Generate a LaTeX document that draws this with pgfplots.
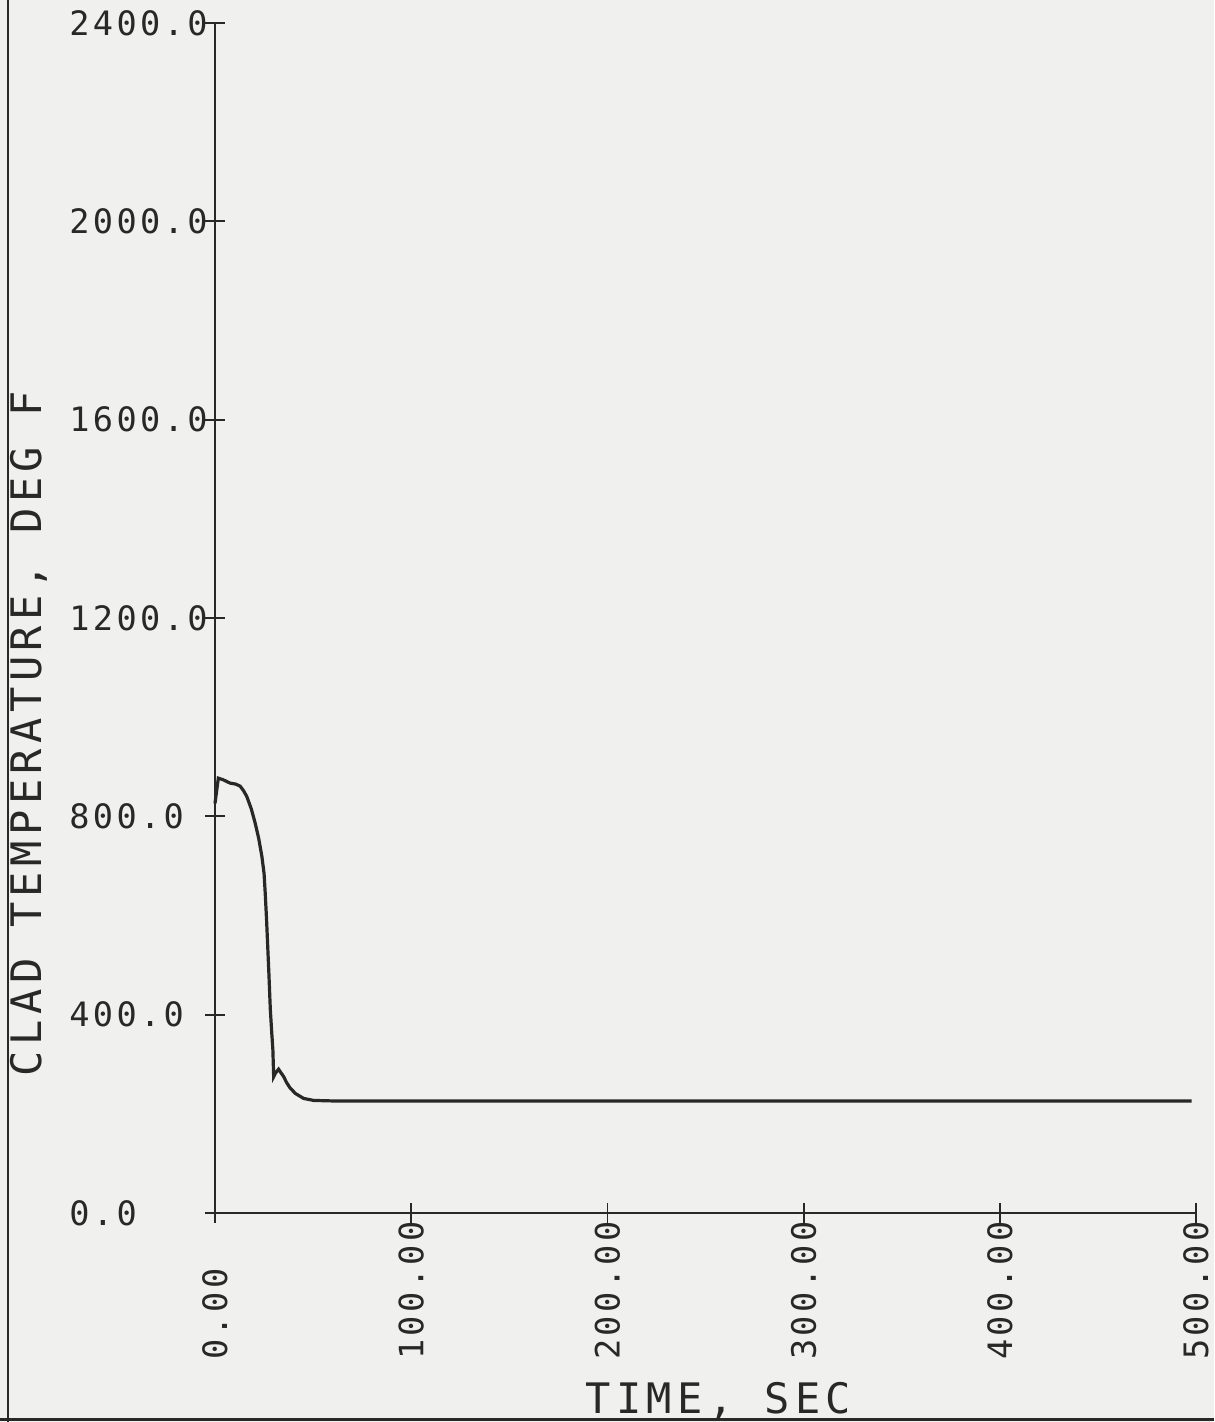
\documentclass[border=0pt]{standalone}
\usepackage{fontspec}
\usepackage{pgfplots}
\pgfplotsset{compat=1.18}
\newfontfamily\pf{DejaVu Sans Mono}[LetterSpace=10]
\newfontfamily\lf{DejaVu Sans Mono}[LetterSpace=13]
\definecolor{ink}{RGB}{40,40,40}
\definecolor{paper}{RGB}{240,240,238}
\begin{document}
\begin{tikzpicture}
\fill[paper] (0,0) rectangle (607pt,711pt);
\useasboundingbox (0,0) rectangle (607pt,711pt);
\draw[ink, line width=1.2pt] (4pt,0) -- (4pt,711pt);
\draw[ink, line width=1.5pt] (0,1.2pt) -- (607pt,1.2pt);
\begin{axis}[
  at={(107.5pt,104.5pt)}, anchor=south west,
  scale only axis, width=490.5pt, height=595pt,
  xmin=0, xmax=500, ymin=0, ymax=2400,
  axis lines=left, axis line style={-, ink, line width=1.1pt},
  xtick={0,100,...,500}, ytick={0,400,...,2400},
  xticklabels={0.00,100.00,200.00,300.00,400.00,500.00},
  yticklabels={0.0,400.0,800.0,1200.0,1600.0,2000.0,2400.0},
  tick align=center, major tick length=10pt,
  tick style={ink, line width=0.9pt},
  tick label style={font=\pf\fontsize{16.8}{17}\selectfont, text=ink, inner sep=0pt},
  yticklabel style={anchor=west, xshift=-68pt},
  xticklabel style={yshift=-68.5pt, rotate=90, anchor=west},
  xlabel={\lf\fontsize{21}{22}\selectfont TIME, SEC},
  ylabel={\lf\fontsize{21}{22}\selectfont CLAD TEMPERATURE, DEG F},
  every axis x label/.style={at={(axis description cs:0.513,-0.158)}, anchor=center, text=ink},
  every axis y label/.style={at={(axis description cs:-0.1895,0.403)}, anchor=center, rotate=90, text=ink},
  clip=false,
]
\addplot[ink, line width=1.6pt] coordinates {
(0,826) (0.8,850) (1.7,877) (4,874) (7.7,867) (10.5,865) (12.8,861) (14.5,852)
(16.2,840) (18.5,815) (20.5,786) (22.3,755) (23.9,719) (25,685) (25.6,645)
(26.3,590) (26.8,544) (27.5,480) (28.2,410) (28.9,365) (29.5,329) (29.9,275)
(30.8,282) (32.4,290) (33.6,283) (35,275) (36.5,263) (38.3,252) (41,241)
(45.2,231) (50.3,227) (60,226) (100,226) (200,226) (300,226) (400,226) (497.8,226)
};
\end{axis}
\end{tikzpicture}
\end{document}
